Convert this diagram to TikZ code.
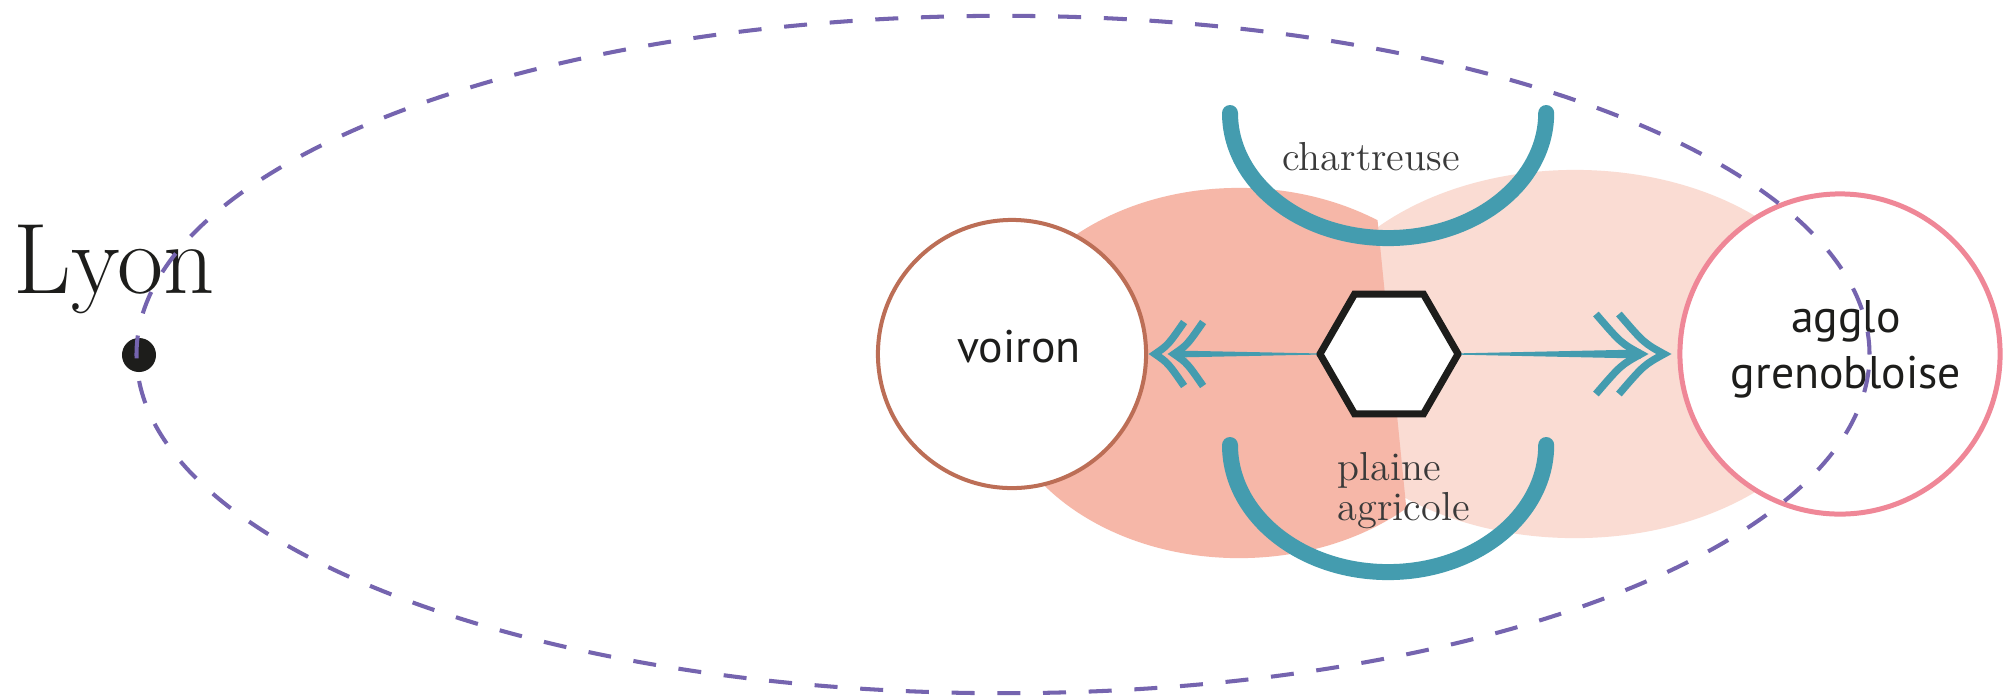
\documentclass[tikz,border=0pt]{standalone}
\usepackage{fontspec}
\newfontfamily\sansf{PT Sans}
\usetikzlibrary{shapes.geometric,calc}
\definecolor{ridgeteal}{HTML}{449CAF}
\definecolor{blobdark}{HTML}{F6B7A8}
\definecolor{bloblight}{HTML}{FADCD3}
\definecolor{voironbrown}{HTML}{BC6E56}
\definecolor{agglopink}{HTML}{EF8797}
\definecolor{orbitpurple}{HTML}{7564AF}
\definecolor{inkblack}{HTML}{1D1D1B}
\definecolor{slabgrey}{HTML}{3A3A3A}
\tikzset{
  citycircle/.style={circle, fill=white, inner sep=0pt, outer sep=0pt},
  hexa/.style={regular polygon, regular polygon sides=6, draw=inkblack, line width=2pt, fill=white, minimum size=1.38cm, inner sep=0pt, outer sep=0pt},
  ridge/.style={draw=ridgeteal, line width=4.55pt, line cap=round},
  chevron/.style={draw=ridgeteal, line width=2.1pt, line join=miter},
  orbit/.style={draw=orbitpurple, line width=1.15pt, dash pattern=on 0.23cm off 0.227cm},
  slab/.style={inner sep=0pt, text=slabgrey, font=\fontsize{11.5}{13}\selectfont},
  sanslabel/.style={inner sep=0pt, text=inkblack, font=\sansf\fontsize{13}{15}\selectfont},
}
\begin{document}
\begin{tikzpicture}[x=0.01cm,y=-0.01cm]
\useasboundingbox (0,0) rectangle (2003,696);
\fill[white] (0,0) rectangle (2003,696);

% blobs
\fill[bloblight] (1575,354) ellipse [x radius=2.72cm, y radius=1.84cm];
\begin{scope}
  \clip (900,100) -- (1365.5,100) -- (1420.5,650) -- (900,650) -- cycle;
  \fill[blobdark] (1239,373) ellipse [x radius=2.45cm, y radius=1.85cm];
\end{scope}

% ridges
\draw[ridge] (1230,113) arc[start angle=180, end angle=360, x radius=1.58cm, y radius=1.25cm];
\draw[ridge] (1230,445) arc[start angle=180, end angle=360, x radius=1.58cm, y radius=1.27cm];

% nodes
\node[hexa] (hex) at (1389,354) {};
\node[citycircle, draw=voironbrown, line width=1.14pt, minimum size=2.68cm] (voiron) at (1012,354) {};
\node[citycircle, draw=agglopink, line width=1.42pt, minimum size=3.2cm] (agglo) at (1840,354) {};

% arrows hex -> voiron
\coordinate (lt) at ($(voiron.east)+(9,0)$);
\fill[ridgeteal] ($(hex.west)+(-3,-0.6)$) -- ($(hex.west)+(-3,0.6)$) -- ($(lt)+(19,3.5)$) -- ($(lt)+(19,-3.5)$) -- cycle;
\draw[chevron] ($(lt)+(29,-32)$) .. controls ($(lt)+(13,-9)$) .. (lt) .. controls ($(lt)+(13,9)$) .. ($(lt)+(29,32)$);
\draw[chevron] ($(lt)+(48,-32)$) .. controls ($(lt)+(32,-9)$) .. ($(lt)+(19,0)$) .. controls ($(lt)+(32,9)$) .. ($(lt)+(48,32)$);

% arrows hex -> agglo
\coordinate (rt) at ($(agglo.west)+(-16,0)$);
\fill[ridgeteal] ($(hex.east)+(3,-0.7)$) -- ($(hex.east)+(3,0.7)$) -- ($(rt)+(-23,4.5)$) -- ($(rt)+(-23,-4.5)$) -- cycle;
\draw[chevron] ($(rt)+(-45,-40)$) .. controls ($(rt)+(-20,-11)$) .. (rt) .. controls ($(rt)+(-20,11)$) .. ($(rt)+(-45,40)$);
\draw[chevron] ($(rt)+(-68,-40)$) .. controls ($(rt)+(-43,-11)$) .. ($(rt)+(-23,0)$) .. controls ($(rt)+(-43,11)$) .. ($(rt)+(-68,40)$);

% labels
\node[sanslabel, anchor=base] (voironlbl) at (1019,362) {voiron};
\node[sanslabel, anchor=base] (agglolbl) at (1846,332) {agglo};
\node[sanslabel, anchor=base] (grenolbl) at (1846,388) {grenobloise};
\node[slab, anchor=base] (chartlbl) at (1371,170) {chartreuse};
\node[slab, anchor=base west] (plainelbl) at (1337,480) {plaine};
\node[slab, anchor=base west] (agrilbl) at (1337,520) {agricole};
\node[inner sep=0pt, anchor=base west, text=inkblack, font=\fontsize{28.5}{32}\selectfont] (lyonlbl) at (13,293) {Lyon};

% Lyon dot and orbit
\node[circle, fill=inkblack, inner sep=0pt, minimum size=0.34cm] (lyondot) at (139,355) {};
\draw[orbit] (1003,354.5) ellipse [x radius=8.66cm, y radius=3.385cm];
\end{tikzpicture}
\end{document}
